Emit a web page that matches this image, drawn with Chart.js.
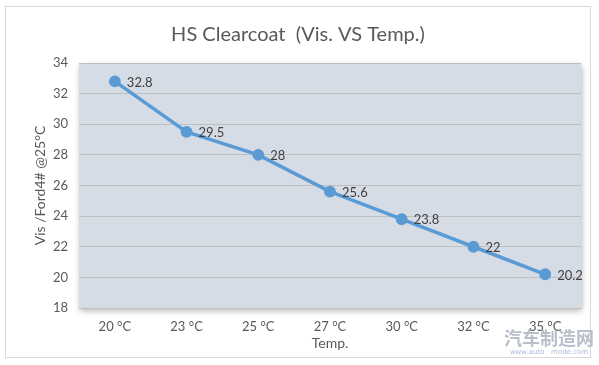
<!DOCTYPE html>
<html>
<head>
<meta charset="utf-8">
<script src="https://cdn.jsdelivr.net/npm/chart.js@4/dist/chart.umd.min.js"></script>
<style>
  html, body { margin: 0; padding: 0; background: #ffffff; }
  #wrap { width: 599px; height: 365px; position: relative; }
</style>
</head>
<body>
<div id="wrap"><canvas id="c" width="599" height="365"></canvas></div>
<script>
const categories = ["20 °C", "23 °C", "25 °C", "27 °C", "30 °C", "32 °C", "35 °C"];
const viscosity = [32.8, 29.5, 28, 25.6, 23.8, 22, 20.2];
const yTicks = [18, 20, 22, 24, 26, 28, 30, 32, 34];
const chartTitle = "HS Clearcoat  (Vis. VS Temp.)";
const xTitle = "Temp.";
const yTitle = "Vis /Ford4# @25°C";
const watermark = "汽车制造网";
const watermarkSub = "www.auto   mode.com";

const FONT = "Lato, 'Open Sans', 'DejaVu Sans', sans-serif";

const framePlugin = {
  id: 'frame',
  beforeDraw(chart) {
    const ctx = chart.ctx;
    const a = chart.chartArea;
    ctx.save();
    ctx.fillStyle = '#ffffff';
    ctx.fillRect(0, 0, chart.width, chart.height);
    ctx.strokeStyle = '#d9d9d9';
    ctx.lineWidth = 1;
    ctx.strokeRect(5.5, 6.5, 585, 351);
    ctx.shadowColor = 'rgba(0,0,0,0.28)';
    ctx.shadowBlur = 6;
    ctx.shadowOffsetX = 1;
    ctx.shadowOffsetY = 3;
    ctx.fillStyle = '#d6dce5';
    ctx.fillRect(a.left, a.top, a.right - a.left, a.bottom - a.top);
    ctx.restore();
  },
  afterDraw(chart) {
    const ctx = chart.ctx;
    ctx.save();
    ctx.textAlign = 'center';
    ctx.textBaseline = 'middle';
    ctx.fillStyle = 'rgba(160,168,184,0.75)';
    ctx.font = "bold 18px 'Noto Sans CJK SC', sans-serif";
    ctx.fillText(watermark, 549, 338);
    ctx.fillStyle = 'rgba(150,170,210,0.8)';
    ctx.font = "7px 'DejaVu Sans', sans-serif";
    ctx.fillText(watermarkSub, 549, 352);
    ctx.restore();
  }
};

const labelPlugin = {
  id: 'pointLabels',
  afterDatasetsDraw(chart) {
    const ctx = chart.ctx;
    const meta = chart.getDatasetMeta(0);
    ctx.save();
    ctx.font = "13px " + FONT;
    ctx.fillStyle = '#404040';
    ctx.textAlign = 'left';
    ctx.textBaseline = 'middle';
    meta.data.forEach((pt, i) => {
      ctx.fillText(String(viscosity[i]), pt.x + 12, pt.y + 1);
    });
    ctx.restore();
  }
};

new Chart(document.getElementById('c'), {
  type: 'line',
  data: {
    labels: categories,
    datasets: [{
      data: viscosity,
      borderColor: '#5b9bd5',
      backgroundColor: '#5b9bd5',
      borderWidth: 3.5,
      pointRadius: 4.2,
      pointHoverRadius: 4.2,
      pointBackgroundColor: '#5b9bd5',
      pointBorderColor: '#5b9bd5',
      tension: 0
    }]
  },
  options: {
    responsive: false,
    animation: false,
    devicePixelRatio: 1,
    layout: { padding: { left: 15, right: 18, top: 0, bottom: 0 } },
    plugins: {
      legend: { display: false },
      tooltip: { enabled: false },
      title: {
        display: true,
        text: chartTitle,
        color: '#595959',
        font: { family: FONT, size: 20, weight: 'normal', lineHeight: 1.2 },
        padding: { top: 23, bottom: 16 }
      }
    },
    scales: {
      x: {
        type: 'category',
        offset: true,
        grid: { display: false, drawTicks: false },
        border: { display: false },
        ticks: {
          color: '#595959',
          font: { family: FONT, size: 13 },
          padding: 11,
          maxRotation: 0
        },
        title: {
          display: true,
          text: xTitle,
          color: '#595959',
          font: { family: FONT, size: 14 },
          padding: { top: 0, bottom: 13 }
        },
        afterFit(scale) { scale.height = 57; }
      },
      y: {
        min: 18,
        max: 34,
        afterBuildTicks(scale) { scale.ticks = yTicks.map(v => ({ value: v })); },
        grid: { color: '#bfbfbf', lineWidth: 1, drawTicks: false },
        border: { display: false },
        ticks: {
          color: '#595959',
          font: { family: FONT, size: 13 },
          padding: 11
        },
        title: {
          display: true,
          text: yTitle,
          color: '#595959',
          font: { family: FONT, size: 14 },
          padding: { top: 17, bottom: 0 }
        },
        afterFit(scale) { scale.width = 64; }
      }
    }
  },
  plugins: [framePlugin, labelPlugin]
});
</script>
</body>
</html>
